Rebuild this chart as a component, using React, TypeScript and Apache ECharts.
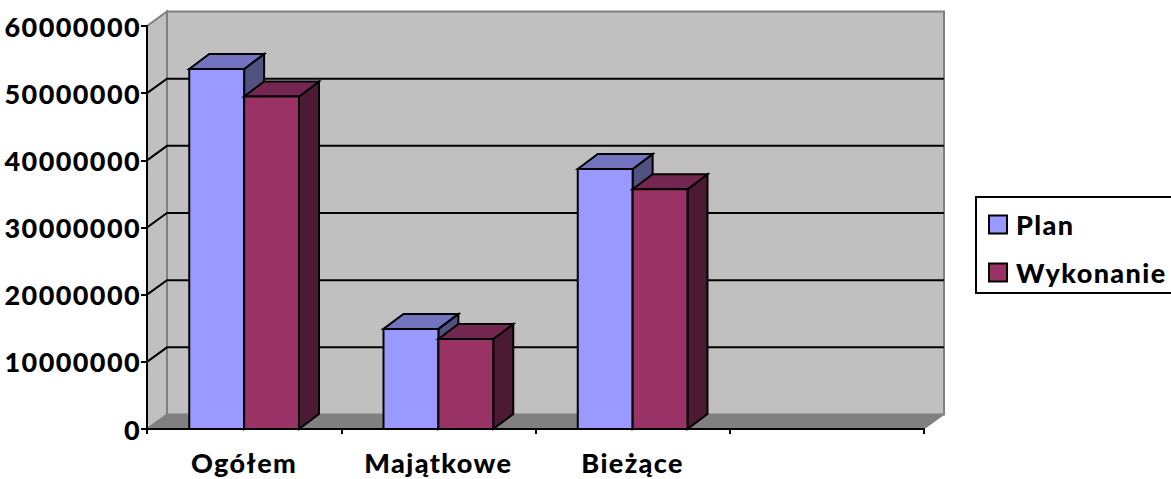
import React, { useEffect, useRef } from "react";
import * as echarts from "echarts";

const categories = ["Ogółem", "Majątkowe", "Bieżące", ""];
const planValues = [53600000, 14900000, 38700000];
const wykonanieValues = [49500000, 13400000, 35700000];
const yTicks = [0, 10000000, 20000000, 30000000, 40000000, 50000000, 60000000];

const DX = 20;
const DY = -15;
const WALL_DY = -14.5;
const FONT = "Lato";
const WEIGHT = 900;

function barSeries(name: string, values: number[], slot: number, front: string, top: string, side: string) {
  return {
    type: "custom",
    name,
    z: 3,
    clip: false,
    itemStyle: { color: front },
    encode: { x: 0, y: 1 },
    data: values.map((v, i) => [i, v]),
    renderItem: (_p: any, api: any) => {
      const c = api.coord([api.value(0), api.value(1)]);
      const base = api.coord([api.value(0), 0]);
      const band = api.size([1, 0])[0];
      const w = band * 0.2825;
      const x0 = c[0] - w + slot * w;
      const x1 = x0 + w;
      const yT = c[1];
      const yB = base[1];
      const stroke = { stroke: "#000", lineWidth: 2, lineJoin: "miter" };
      return {
        type: "group",
        children: [
          { type: "polygon", shape: { points: [[x1, yT], [x1 + DX, yT + DY], [x1 + DX, yB + DY], [x1, yB]] }, style: { fill: side, ...stroke } },
          { type: "polygon", shape: { points: [[x0, yT], [x0 + DX, yT + DY], [x1 + DX, yT + DY], [x1, yT]] }, style: { fill: top, ...stroke } },
          { type: "rect", shape: { x: x0, y: yT, width: w, height: yB - yT }, style: { fill: front, ...stroke } },
        ],
      };
    },
  };
}

const wallSeries = {
  type: "custom",
  name: "Ściany",
  z: 1,
  clip: false,
  silent: true,
  encode: { x: 0, y: 1 },
  data: [[0, 0]],
  renderItem: (params: any, api: any) => {
    const cs = params.coordSys;
    const l = cs.x;
    const r = cs.x + cs.width;
    const t = cs.y;
    const b = cs.y + cs.height;
    const grey = { stroke: "#808080", lineWidth: 2 };
    const children: any[] = [
      { type: "polygon", shape: { points: [[l, t], [l + DX, t + WALL_DY], [l + DX, b + WALL_DY], [l, b]] }, style: { fill: "#C0C0C0", ...grey } },
      { type: "rect", shape: { x: l + DX, y: t + WALL_DY, width: r - l, height: b - t }, style: { fill: "#C0C0C0", ...grey } },
      { type: "polygon", shape: { points: [[l, b], [l + DX, b + WALL_DY], [r + DX, b + WALL_DY], [r, b]] }, style: { fill: "#808080", stroke: "#808080", lineWidth: 1 } },
    ];
    yTicks.slice(1, -1).forEach((tick) => {
      const y = api.coord([0, tick])[1];
      children.push({
        type: "polyline",
        shape: { points: [[l, y], [l + DX, y + WALL_DY], [r + DX, y + WALL_DY]] },
        style: { stroke: "#000", lineWidth: 2, fill: "none" },
      });
    });
    return { type: "group", children };
  },
};

export default function App() {
  const ref = useRef<HTMLDivElement>(null);
  useEffect(() => {
    document.body.style.margin = "0";
    document.body.style.overflow = "hidden";
    const chart = echarts.init(ref.current!, null, { renderer: "svg" });
    chart.setOption({
      animation: false,
      backgroundColor: "#fff",
      textStyle: { fontFamily: FONT },
      grid: { left: 147, right: 247, top: 26, bottom: 50, containLabel: false },
      xAxis: {
        type: "category",
        data: categories,
        z: 5,
        axisLine: { lineStyle: { color: "#000", width: 2 } },
        axisTick: { show: true, alignWithLabel: false, length: 5, lineStyle: { color: "#000", width: 2 } },
        axisLabel: { color: "#000", fontFamily: FONT, fontWeight: WEIGHT, fontSize: 27, margin: 20, interval: 0 },
      },
      yAxis: {
        type: "value",
        min: 0,
        max: 60000000,
        interval: 10000000,
        z: 5,
        splitLine: { show: false },
        axisLine: { show: true, lineStyle: { color: "#000", width: 2 } },
        axisTick: { show: true, length: 6, lineStyle: { color: "#000", width: 2 } },
        axisLabel: { color: "#000", fontFamily: FONT, fontWeight: WEIGHT, fontSize: 27, margin: 6, formatter: (v: number) => String(v) },
      },
      legend: {
        left: 976,
        top: 197,
        orient: "vertical",
        padding: [14, 80, 7, 12],
        borderColor: "#000",
        borderWidth: 2,
        itemWidth: 18,
        itemHeight: 18,
        itemGap: 21,
        selectedMode: false,
        textStyle: { color: "#000", fontFamily: FONT, fontWeight: WEIGHT, fontSize: 27, padding: [0, 0, 0, 4] },
        data: [
          { name: "Plan", icon: "rect", itemStyle: { color: "#9999FF", borderColor: "#000", borderWidth: 2 } },
          { name: "Wykonanie", icon: "rect", itemStyle: { color: "#993366", borderColor: "#000", borderWidth: 2 } },
        ],
      },
      series: [
        wallSeries,
        barSeries("Plan", planValues, 0, "#9999FF", "#7373BF", "#525280"),
        barSeries("Wykonanie", wykonanieValues, 1, "#993366", "#732650", "#4D1A33"),
      ],
    });
    return () => chart.dispose();
  }, []);
  return (
    <div
      ref={ref}
      style={{ width: 1171, height: 479, position: "absolute", left: 0, top: 0, letterSpacing: "1.4px" }}
    />
  );
}
